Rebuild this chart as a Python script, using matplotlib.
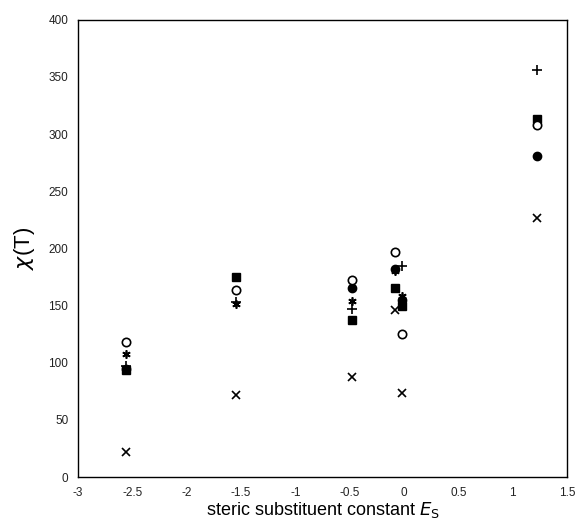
import matplotlib
matplotlib.use("Agg")
import matplotlib.pyplot as plt

plt.rcParams['font.family'] = ['Liberation Sans', 'DejaVu Sans']

# series data (x: steric substituent constant Es, y: chi(T))
open_circle_x = [-2.56, -1.55, -0.48, -0.08, -0.02, 1.22]
open_circle_y = [118, 164, 172, 197, 125, 308]
filled_circle_x = [-2.56, -0.48, -0.08, -0.02, 1.22]
filled_circle_y = [95, 165, 182, 155, 281]
square_x = [-2.56, -1.55, -0.48, -0.08, -0.02, 1.22]
square_y = [94, 175, 137, 165, 150, 313]
plus_x = [-2.56, -1.55, -0.48, -0.02, 1.22]
plus_y = [97, 153, 147, 185, 356]
cross_x = [-2.56, -1.55, -0.48, -0.08, -0.02, 1.22]
cross_y = [22, 72, 88, 146, 74, 227]
star_x = [-2.56, -1.55, -0.48, -0.08, -0.02]
star_y = [108, 151, 154, 180, 158]

xticks = [-3, -2.5, -2, -1.5, -1, -0.5, 0, 0.5, 1, 1.5]
xtick_labels = ['-3', '-2.5', '-2', '-1.5', '-1', '-0.5', '0', '0.5', '1', '1.5']
yticks = [0, 50, 100, 150, 200, 250, 300, 350, 400]

fig = plt.figure(figsize=(5.78, 5.22), dpi=100)
ax = fig.add_axes([0.135, 0.086, 0.846, 0.876])

ms = 6
ax.plot(star_x, star_y, linestyle='none', marker=(6, 2, 0), color='black', markersize=ms, markeredgewidth=1.2)
ax.plot(filled_circle_x, filled_circle_y, linestyle='none', marker='o', color='black', markersize=ms)
ax.plot(square_x, square_y, linestyle='none', marker='s', color='black', markersize=ms)
ax.plot(open_circle_x, open_circle_y, linestyle='none', marker='o', markerfacecolor='white',
        markeredgecolor='black', markersize=ms, markeredgewidth=1.2)
ax.plot(plus_x, plus_y, linestyle='none', marker='+', color='black', markersize=ms + 1, markeredgewidth=1.2)
ax.plot(cross_x, cross_y, linestyle='none', marker='x', color='black', markersize=ms, markeredgewidth=1.2)

ax.set_xlim(-3, 1.5)
ax.set_ylim(0, 400)
ax.set_xticks(xticks)
ax.set_xticklabels(xtick_labels)
ax.set_yticks(yticks)
ax.tick_params(length=0, labelsize=8.5, pad=7, labelcolor='#222222')
for s in ax.spines.values():
    s.set_linewidth(1.0)
    s.set_color('black')

ax.set_ylabel(r'$\chi$(T)', fontsize=16, labelpad=8)
ax.set_xlabel(r'steric substituent constant $E_{\mathrm{S}}$', fontsize=13, labelpad=1)

fig.savefig('out.png', dpi=100)
